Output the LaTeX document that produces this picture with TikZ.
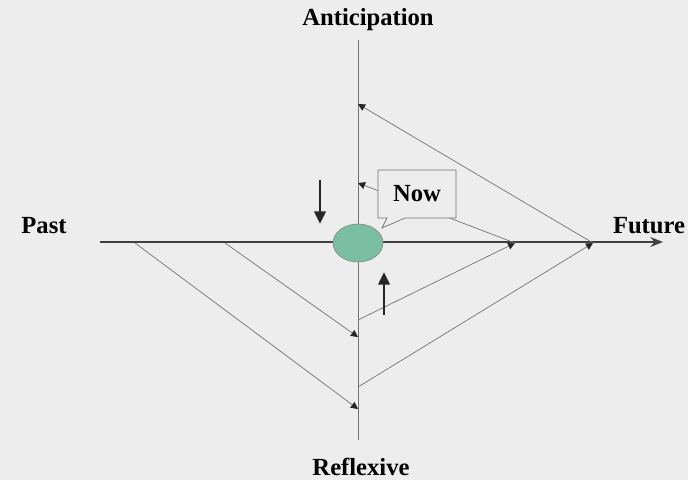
\documentclass[tikz,border=0pt]{standalone}
\usepackage{fontspec}
\setmainfont{Liberation Serif}
\usepackage{xcolor}
\usetikzlibrary{arrows.meta,positioning,calc,shapes.geometric,shapes.callouts}

\definecolor{bgpaper}{HTML}{EDEDED}
\definecolor{nowgreen}{HTML}{7BBFA2}

\begin{document}
\begin{tikzpicture}[
  x=0.025cm, y=-0.025cm,
  >=Stealth,
  lbl/.style={font=\fontsize{17.5}{19}\selectfont\bfseries},
  axisline/.style={draw=black!75, line width=1.5pt},
  ray/.style={draw=black!55, line width=0.5pt, -{Triangle[length=5pt,width=5pt,color=black!85]}},
  bigarr/.style={draw=black!85, line width=2pt, -{Triangle[length=9pt,width=8pt]}}
]

% paper
\fill[bgpaper] (0,0) rectangle (688,480);
\useasboundingbox (0,0) rectangle (688,480);

%--------------------------------------------------
% axes
%--------------------------------------------------
\coordinate (vtop) at (358,40);
\coordinate (vbot) at (358,440);
\coordinate (hleft) at (100,242);
\coordinate (hright) at (663,242);

\draw[draw=black!55, line width=0.6pt] (vtop) -- (vbot);
\draw[axisline, -{Stealth[length=9pt,width=7pt]}] (hleft) -- (hright);

\node[lbl] (antic) at (368,20) {Anticipation};
\node[lbl] (refl) at (361,467) {Reflexive};
\node[lbl] (past) at (44,226) {Past};
\node[lbl] (future) at (649,226) {Future};

%--------------------------------------------------
% points on the axes
%--------------------------------------------------
\coordinate (p1) at (135,243);
\coordinate (p2) at (225,243);
\coordinate (f1) at (515,243);
\coordinate (f2) at (593,243);
\coordinate (r1) at (358,337);
\coordinate (r2) at (358,409);
\coordinate (r3) at (358,320);
\coordinate (r4) at (358,387);
\coordinate (a1) at (358,183);
\coordinate (a2) at (358,104);

% past -> reflexive
\draw[ray] (p1) -- (r2);
\draw[ray] (p2) -- (r1);
% reflexive -> future
\draw[ray] (r3) -- (f1);
\draw[ray] (r4) -- (f2);
% future -> anticipation
\draw[ray] (f2) -- (a2);
\draw[ray] (f1) -- (a1);

%--------------------------------------------------
% now
%--------------------------------------------------
\node[ellipse, draw=black!50, fill=nowgreen, minimum width=1.25cm,
      minimum height=0.95cm, inner sep=0pt] (now) at (358,243) {};

\node[rectangle callout, draw=black!55, fill=bgpaper, line width=0.5pt,
      minimum width=1.95cm, minimum height=1.2cm,
      callout absolute pointer={(382,228)}, callout pointer width=0.45cm,
      lbl] (nowlbl) at (417,194) {Now};

% movement arrows
\coordinate (dtop) at (320,180);
\coordinate (dbot) at (320,224);
\coordinate (ubot) at (384,315);
\coordinate (utop) at (384,272);
\draw[bigarr] (dtop) -- (dbot);
\draw[bigarr] (ubot) -- (utop);

\end{tikzpicture}
\end{document}
